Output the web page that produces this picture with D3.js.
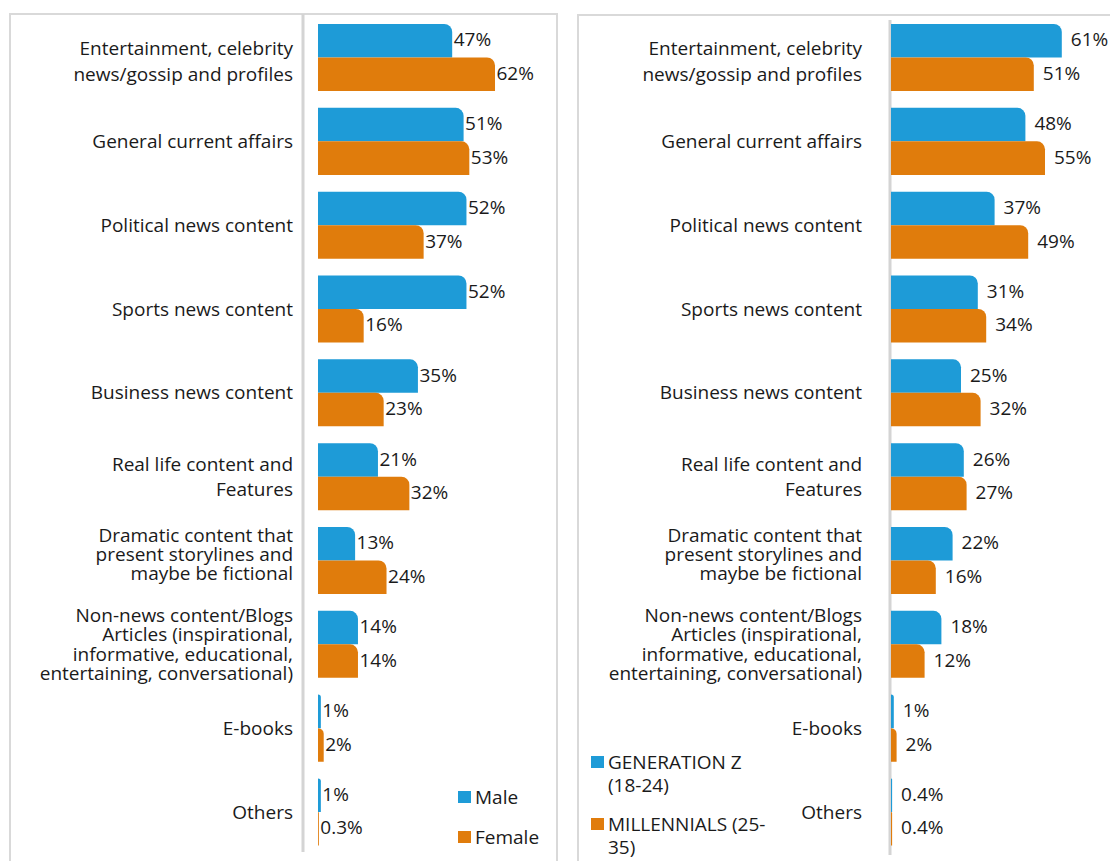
<!DOCTYPE html>
<html>
<head>
<meta charset="utf-8">
<script src="https://cdn.jsdelivr.net/npm/d3@7/dist/d3.min.js"></script>
<style>
  html, body { margin: 0; padding: 0; background: #fff; }
  svg { display: block; }
  text { font-family: "Open Sans", "Noto Sans", sans-serif; fill: #1a1a1a; }
</style>
</head>
<body>
<svg id="chart" width="1110" height="861"></svg>
<script>
// Content categories (shared by both panels), each split into label lines
const categories = [
  "Entertainment", "General", "Political", "Sports", "Business",
  "RealLife", "Dramatic", "NonNews", "Ebooks", "Others"
];
const categoryLabels = [
  ["Entertainment, celebrity", "news/gossip and profiles"],
  ["General current affairs"],
  ["Political news content"],
  ["Sports news content"],
  ["Business news content"],
  ["Real life content and", "Features"],
  ["Dramatic content that", "present storylines and", "maybe be fictional"],
  ["Non-news content/Blogs", "Articles (inspirational,", "informative, educational,", "entertaining, conversational)"],
  ["E-books"],
  ["Others"]
];

// Gender panel (percent)
const maleValues   = [47, 51, 52, 52, 35, 21, 13, 14, 1, 1];
const femaleValues = [62, 53, 37, 16, 23, 32, 24, 14, 2, 0.3];
const genderSeries = ["Male", "Female"];
const genderLegend = [["Male"], ["Female"]];

// Generation panel (percent)
const genZValues        = [61, 48, 37, 31, 25, 26, 22, 18, 1, 0.4];
const millennialsValues = [51, 55, 49, 34, 32, 27, 16, 12, 2, 0.4];
const generationSeries = ["GenZ", "Millennials"];
const generationLegend = [["GENERATION Z", "(18-24)"], ["MILLENNIALS (25-", "35)"]];

const colors = ["#1e9bd7", "#e07c0c"];
const fontSize = 19;

const svg = d3.select("#chart");

function fmt(v) { return v < 1 ? v.toFixed(1) + "%" : v + "%"; }

// Bar path with only the top-right corner rounded
function barPath(x0, y0, w, h, r) {
  const rr = Math.max(0, Math.min(r, w, h));
  return `M${x0},${y0}H${x0 + w - rr}` +
    (rr > 0 ? `A${rr},${rr} 0 0 1 ${x0 + w},${y0 + rr}` : "") +
    `V${y0 + h}H${x0}Z`;
}

function drawPanel(opt) {
  const g = svg.append("g");

  // panel frame (open at the bottom edge of the canvas)
  g.append("path")
    .attr("d", `M${opt.frameX0},861V${opt.frameY}H${opt.frameX1}V861`)
    .attr("fill", "none").attr("stroke", "#d9d9d9").attr("stroke-width", 2);

  const y = d3.scaleBand().domain(categories).range([15.6, 853.9])
    .paddingInner(0.2).paddingOuter(0.1);
  const ys = d3.scaleBand().domain(opt.series).range([0, y.bandwidth()]);
  const x = d3.scaleLinear().domain([0, 100]).range([opt.x0, opt.x0 + opt.pxPer100]);

  // category axis line
  g.append("line")
    .attr("x1", opt.axisX).attr("x2", opt.axisX)
    .attr("y1", opt.axisY0).attr("y2", opt.axisY1)
    .attr("stroke", "#d4d4d4").attr("stroke-width", 3);

  const rows = categories.map((c, i) => ({
    cat: c, idx: i, lines: categoryLabels[i],
    vals: opt.values.map(v => v[i])
  }));

  const row = g.selectAll("g.row").data(rows).join("g").attr("class", "row")
    .attr("transform", d => `translate(0,${y(d.cat)})`);

  row.selectAll("path.bar")
    .data(d => d.vals.map((v, k) => ({ v, k, s: opt.series[k] })))
    .join("path").attr("class", "bar")
    .attr("fill", d => colors[d.k])
    .attr("d", d => barPath(x(0), ys(d.s), x(d.v) - x(0), ys.bandwidth(), 8));

  row.selectAll("text.val")
    .data(d => d.vals.map((v, k) => ({ v, k, s: opt.series[k] })))
    .join("text").attr("class", "val")
    .attr("x", d => x(d.v) + opt.labelGap)
    .attr("y", d => ys(d.s) + ys.bandwidth() / 2 - 1)
    .attr("dy", "0.35em")
    .attr("font-size", fontSize)
    .text(d => fmt(d.v));

  // category labels, right aligned against the axis
  row.each(function (d) {
    const n = d.lines.length;
    const lh = n > 2 ? 19.2 : 25.5;
    let cy = y.bandwidth() / 2;
    if (n === 3) cy -= 6;
    if (d.idx === 0) cy += 4;
    const t = d3.select(this).append("text")
      .attr("text-anchor", "end")
      .attr("font-size", fontSize);
    d.lines.forEach((ln, j) => {
      t.append("tspan")
        .attr("x", opt.labelX)
        .attr("y", cy + (j - (n - 1) / 2) * lh)
        .attr("dy", "0.35em")
        .text(ln);
    });
  });

  // legend
  const lg = g.append("g");
  opt.legend.forEach((lines, k) => {
    const ly = opt.legendY[k];
    lg.append("rect")
      .attr("x", opt.legendX).attr("y", ly - 6)
      .attr("width", 13).attr("height", 12)
      .attr("fill", colors[k]);
    const t = lg.append("text").attr("font-size", fontSize);
    lines.forEach((ln, j) => {
      t.append("tspan")
        .attr("x", opt.legendX + 17)
        .attr("y", ly + j * 23.5)
        .attr("dy", "0.35em")
        .text(ln);
    });
  });
}

drawPanel({
  frameX0: 10, frameX1: 557, frameY: 14,
  axisX: 303, axisY0: 14, axisY1: 852,
  x0: 318, pxPer100: 285.5, labelGap: 1.5, labelX: 293,
  series: genderSeries, values: [maleValues, femaleValues],
  legend: genderLegend, legendX: 458, legendY: [797, 837]
});

drawPanel({
  frameX0: 578, frameX1: 1112, frameY: 15,
  axisX: 890, axisY0: 20, axisY1: 855,
  x0: 891, pxPer100: 280, labelGap: 9, labelX: 862,
  series: generationSeries, values: [genZValues, millennialsValues],
  legend: generationLegend, legendX: 591, legendY: [762, 824]
});
</script>
</body>
</html>
